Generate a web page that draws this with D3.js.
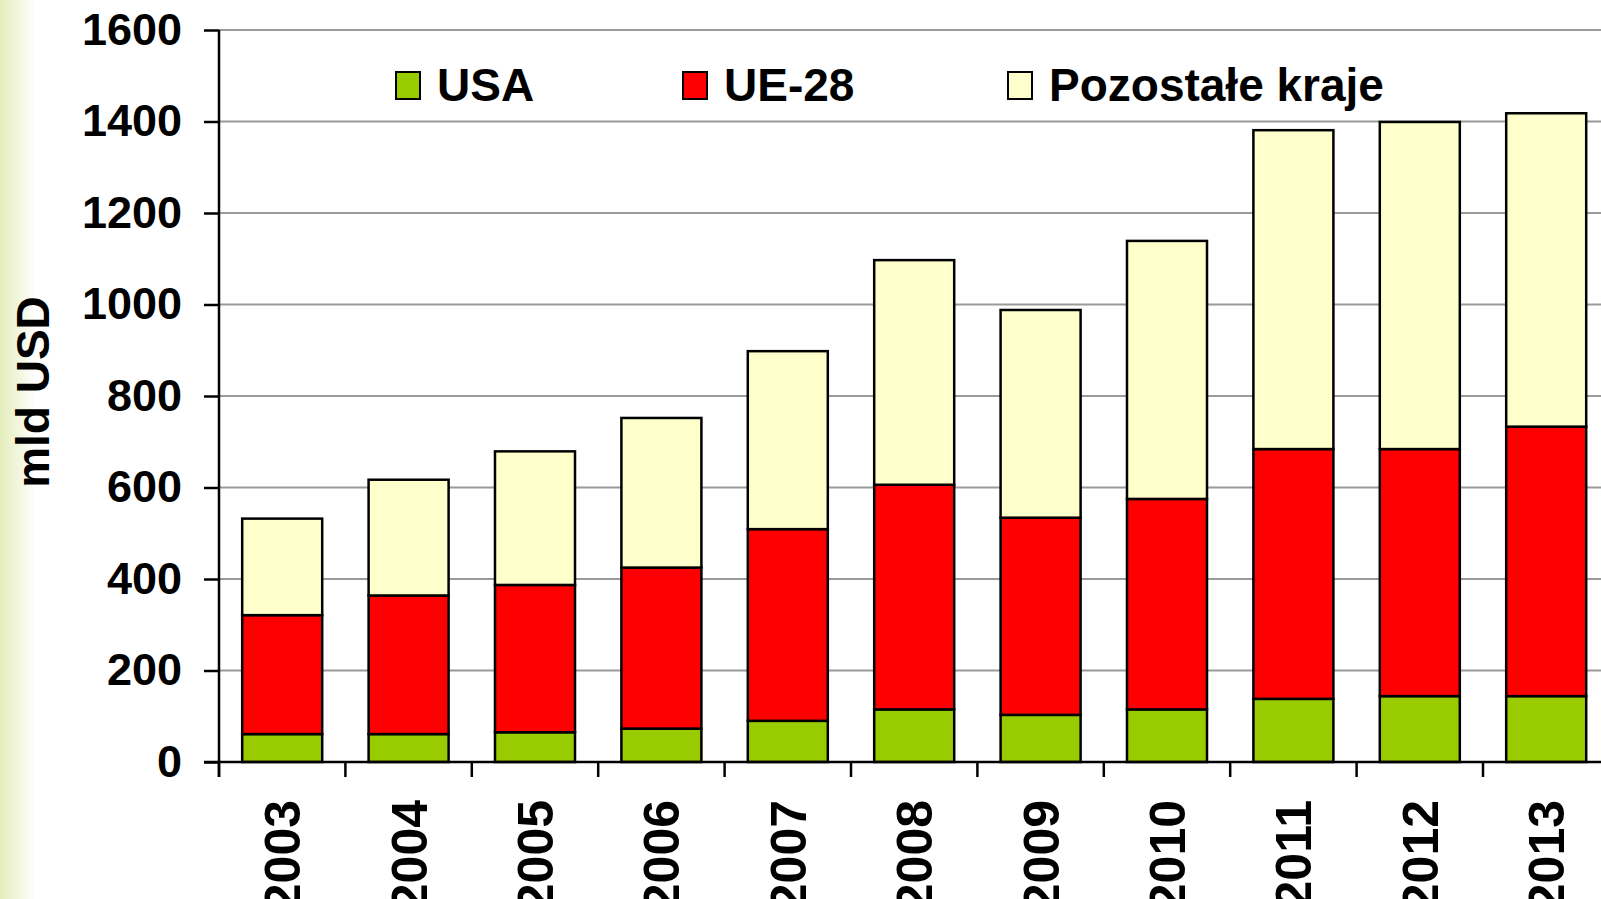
<!DOCTYPE html>
<html>
<head>
<meta charset="utf-8">
<script src="https://cdn.jsdelivr.net/npm/d3@7"></script>
<style>
  html, body { margin: 0; padding: 0; background: #fff; }
  svg { display: block; font-family: "Liberation Sans", Arial, sans-serif; font-weight: bold; }
</style>
</head>
<body>
<svg id="chart" width="1601" height="899"></svg>
<script>
'use strict';

// dane (mld USD)
const years = ['2003','2004','2005','2006','2007','2008','2009','2010','2011','2012','2013'];
const usa = [61, 61, 65, 73, 90, 115, 103, 115, 138, 144, 144];
const ue28 = [260, 303, 322, 352, 419, 491, 431, 460, 546, 540, 589];
const pozostale = [211, 253, 292, 327, 389, 491, 454, 564, 697, 715, 685];
const yTicks = [0, 200, 400, 600, 800, 1000, 1200, 1400, 1600];

const series = [
  { key: 'usa', label: 'USA', color: '#99cc00', values: usa },
  { key: 'ue28', label: 'UE-28', color: '#ff0000', values: ue28 },
  { key: 'poz', label: 'Pozostałe kraje', color: '#ffffcc', values: pozostale },
];

const W = 1601, H = 899;
const svg = d3.select('#chart');

// jasnozielony pasek po lewej
const defs = svg.append('defs');
const grad = defs.append('linearGradient').attr('id', 'leftBg').attr('x1', 0).attr('x2', 1);
grad.append('stop').attr('offset', 0).attr('stop-color', '#e4edba');
grad.append('stop').attr('offset', 1).attr('stop-color', '#ffffff');
svg.append('rect').attr('width', 36).attr('height', H).attr('fill', 'url(#leftBg)');

const x = d3.scaleBand().domain(years).range([219, 1609.4]).paddingInner(0.367).paddingOuter(0.1835);
const y = d3.scaleLinear().domain([0, 1600]).range([762, 30]);

// siatka
svg.append('g').selectAll('line').data(yTicks.filter(d => d > 0)).join('line')
  .attr('x1', 219).attr('x2', W)
  .attr('y1', d => y(d)).attr('y2', d => y(d))
  .attr('stroke', '#9a9a9a').attr('stroke-width', 2);

// słupki
const rows = years.map((yr, i) => {
  const r = { year: yr };
  series.forEach(s => r[s.key] = s.values[i]);
  return r;
});
const stacked = d3.stack().keys(series.map(s => s.key))(rows);

svg.append('g').selectAll('g').data(stacked).join('g')
  .attr('fill', (d, i) => series[i].color)
  .selectAll('rect').data(d => d).join('rect')
  .attr('x', d => x(d.data.year))
  .attr('width', x.bandwidth())
  .attr('y', d => y(d[1]))
  .attr('height', d => y(d[0]) - y(d[1]))
  .attr('stroke', '#000').attr('stroke-width', 2.5);

// oś Y
const yAxis = svg.append('g').attr('transform', 'translate(219,0)')
  .call(d3.axisLeft(y).tickValues(yTicks).tickFormat(d3.format('d'))
    .tickSize(15).tickPadding(22).tickSizeOuter(0));
yAxis.select('.domain').attr('stroke', '#000').attr('stroke-width', 2.5)
  .attr('d', 'M0,30V777');
yAxis.selectAll('.tick line').attr('stroke', '#000').attr('stroke-width', 2.5);
yAxis.selectAll('.tick text').attr('fill', '#000').attr('font-size', 45)
  .attr('font-weight', 'bold').attr('font-family', '"Liberation Sans", Arial, sans-serif');

// oś X
const xAxis = svg.append('g').attr('transform', 'translate(0,762)');
xAxis.append('line').attr('x1', 204).attr('x2', W).attr('y1', 0).attr('y2', 0)
  .attr('stroke', '#000').attr('stroke-width', 2.5);
const step = x.step();
xAxis.selectAll('line.tk').data(d3.range(years.length + 1)).join('line')
  .attr('class', 'tk')
  .attr('x1', i => 219 + i * step).attr('x2', i => 219 + i * step)
  .attr('y1', 0).attr('y2', 15)
  .attr('stroke', '#000').attr('stroke-width', 2.5);
xAxis.selectAll('text').data(years).join('text')
  .attr('transform', d => `translate(${x(d) + x.bandwidth() / 2 + 18},38) rotate(-90)`)
  .attr('text-anchor', 'end')
  .attr('font-size', 50)
  .text(d => d);

// tytuł osi Y
svg.append('text')
  .attr('transform', 'translate(49,392) rotate(-90)')
  .attr('text-anchor', 'middle')
  .attr('font-size', 46)
  .text('mld USD');

// legenda
const legendPos = [396, 683, 1008];
const leg = svg.append('g').selectAll('g').data(series).join('g')
  .attr('transform', (d, i) => `translate(${legendPos[i]},72)`);
leg.append('rect').attr('width', 24).attr('height', 27)
  .attr('fill', d => d.color).attr('stroke', '#000').attr('stroke-width', 2);
leg.append('text').attr('x', 41).attr('y', 29).attr('font-size', 46).text(d => d.label);
</script>
</body>
</html>
